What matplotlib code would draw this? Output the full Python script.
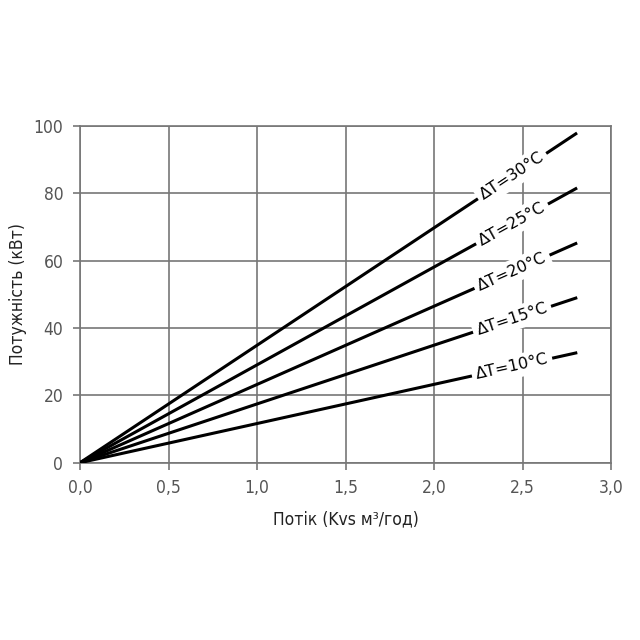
import numpy as np
from matplotlib import pyplot as plt

# flow (Kvs m3/h) at the end of each line and power values
flow_end = 2.8
delta_t = [10, 15, 20, 25, 30]
power_end = [32.6, 48.9, 65.1, 81.4, 97.7]
label_x = 2.44

x_ticks = [0.0, 0.5, 1.0, 1.5, 2.0, 2.5, 3.0]
x_tick_labels = ['0,0', '0,5', '1,0', '1,5', '2,0', '2,5', '3,0']
y_ticks = [0, 20, 40, 60, 80, 100]

plt.rcParams['font.family'] = ['DejaVu Sans']
plt.rcParams['font.stretch'] = 'condensed'

fig = plt.figure(figsize=(6.4, 6.4), dpi=100)
ax = fig.add_axes([0.125, 0.277, 0.83, 0.526])

for dt, p in zip(delta_t, power_end):
    ax.plot([0, flow_end], [0, p], color='black', lw=2.2, zorder=3)
    slope = p / flow_end
    ang = np.degrees(np.arctan(slope))
    ax.text(label_x, slope * label_x, F"ΔT={dt}°C", fontstretch='normal',
            fontsize=11.5, rotation=ang, transform_rotates_text=True,
            rotation_mode='anchor', ha='center', va='center', zorder=4,
            bbox=dict(facecolor='white', edgecolor='none', pad=3))

ax.set_xlim(0, 3)
ax.set_ylim(0, 100)
ax.set_xticks(x_ticks)
ax.set_xticklabels(x_tick_labels)
ax.set_yticks(y_ticks)
ax.grid(True, color='#777777', lw=1.2)
ax.set_axisbelow(True)
for s in ax.spines.values():
    s.set_color('#777777')
    s.set_linewidth(1.2)
ax.tick_params(colors='#777777', labelcolor='#555555', labelsize=12.5,
               length=5, width=1.2, pad=7)

ax.set_xlabel('Потік (Kvs м³/год)', fontsize=12.5, color='#222222', labelpad=9)
ax.set_ylabel('Потужність (кВт)', fontsize=12.5, color='#222222', labelpad=5)

fig.savefig('out.png', dpi=100)
plt.close()
